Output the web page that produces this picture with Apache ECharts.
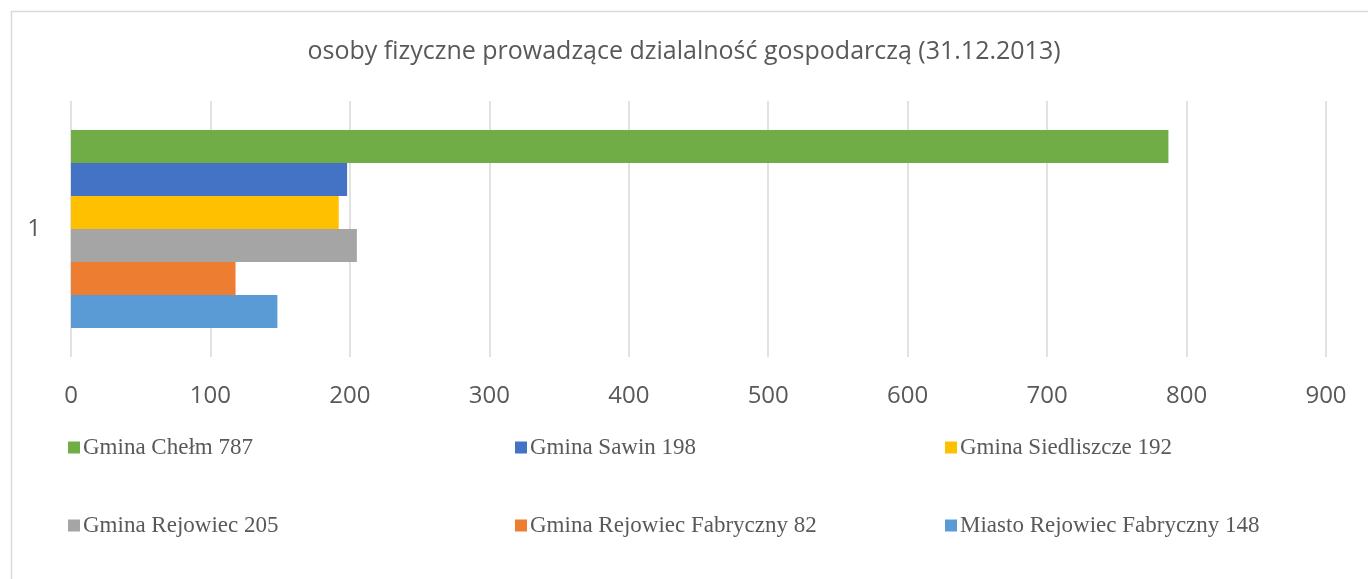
<!DOCTYPE html>
<html>
<head>
<meta charset="utf-8">
<script src="https://cdn.jsdelivr.net/npm/echarts@6/dist/echarts.min.js"></script>
<style>
  html, body { margin: 0; padding: 0; background: #fff; }
  #chart { width: 1368px; height: 579px; }
</style>
</head>
<body>
<div id="chart"></div>
<script>
// data
const categories = ['1'];
const seriesNames = [
  'Gmina Chełm 787',
  'Gmina Sawin 198',
  'Gmina Siedliszcze 192',
  'Gmina Rejowiec 205',
  'Gmina Rejowiec Fabryczny 82',
  'Miasto Rejowiec Fabryczny 148'
];
const seriesValues = [
  [787],
  [198],
  [192],
  [205],
  [118],
  [148]
];
const seriesColors = ['#70AD47', '#4472C4', '#FFC000', '#A5A5A5', '#ED7D31', '#5B9BD5'];
const axisMax = 900;
const axisStep = 100;

// legend grid positions (Excel lays legend out in 3 columns x 2 rows)
const legendSpots = [
  [63, 431], [510, 431], [940, 431],
  [63, 509], [510, 509], [940, 509]
];

const chart = echarts.init(document.getElementById('chart'));

const series = seriesNames.map((name, i) => ({
  name: name,
  type: 'bar',
  data: seriesValues[i],
  itemStyle: { color: seriesColors[i] },
  barGap: '0%',
  barCategoryGap: '22.6%',
  emphasis: { disabled: true }
}));

const legends = seriesNames.map((name, i) => ({
  data: [name],
  left: legendSpots[i][0],
  top: legendSpots[i][1],
  icon: 'rect',
  itemWidth: 12,
  itemHeight: 12,
  itemGap: 4,
  selectedMode: false,
  textStyle: {
    fontFamily: 'Liberation Serif',
    fontSize: 23,
    color: '#595959',
    padding: [0, 0, 0, -2]
  }
}));

const option = {
  backgroundColor: '#fff',
  animation: false,
  title: {
    text: 'osoby fizyczne prowadzące dzialalność gospodarczą (31.12.2013)',
    left: 'center',
    top: 34,
    textStyle: {
      fontFamily: 'Open Sans',
      fontWeight: 'normal',
      fontSize: 25,
      color: '#595959'
    }
  },
  legend: legends,
  graphic: [{
    type: 'rect',
    shape: { x: 11.5, y: 11.5, width: 1400, height: 700 },
    style: { fill: 'none', stroke: '#d9d9d9', lineWidth: 1.5 },
    silent: true
  }],
  grid: {
    left: 71,
    right: 42,
    top: 101,
    bottom: 222
  },
  xAxis: {
    type: 'value',
    min: 0,
    max: axisMax,
    interval: axisStep,
    axisLine: { show: false },
    axisTick: { show: false },
    splitLine: { lineStyle: { color: '#d9d9d9', width: 1.5 } },
    axisLabel: {
      margin: 27,
      fontFamily: 'Open Sans',
      fontSize: 24,
      color: '#595959'
    }
  },
  yAxis: {
    type: 'category',
    data: categories,
    axisLine: { show: false },
    axisTick: { show: false },
    axisLabel: {
      margin: 30,
      fontFamily: 'Open Sans',
      fontSize: 24,
      color: '#595959'
    }
  },
  series: series
};

chart.setOption(option);
</script>
</body>
</html>
